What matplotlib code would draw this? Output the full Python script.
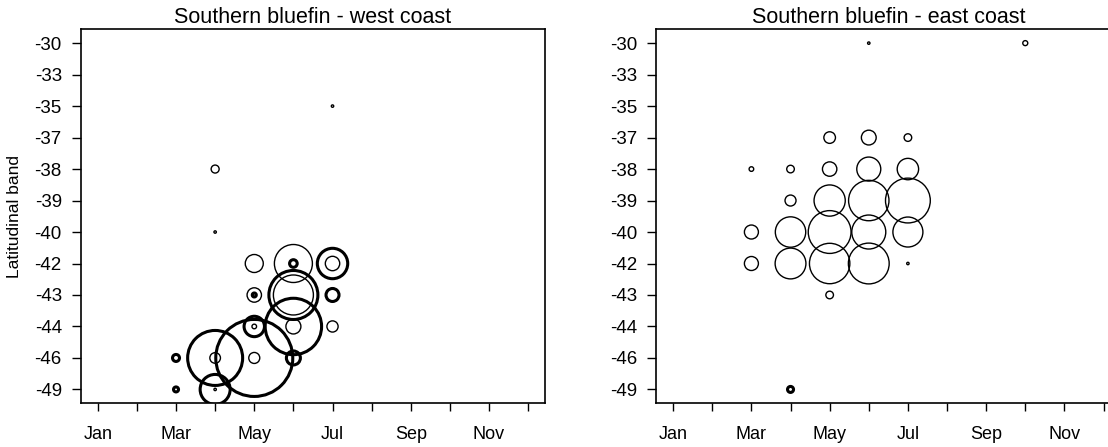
import matplotlib.pyplot as plt

plt.rcParams['font.family'] = ['Liberation Sans', 'DejaVu Sans']

months = ['Jan', 'Feb', 'Mar', 'Apr', 'May', 'Jun',
          'Jul', 'Aug', 'Sep', 'Oct', 'Nov', 'Dec']
bands = [-30, -33, -35, -37, -38, -39, -40, -42, -43, -44, -46, -49]

# west coast - heavy circles
west_a_month = [3, 3, 4, 4, 5, 5, 5, 6, 6, 6, 6, 7, 7]
west_a_band = [-46, -49, -46, -49, -46, -44, -43, -42, -43, -44, -46, -42, -43]
west_a_catch = [3.5, 2.5, 27.5, 15, 38.5, 10.2, 2, 3.8, 24.5, 28.2, 7, 15.2, 6.5]

# west coast - light circles
west_b_month = [4, 4, 7, 4, 4, 5, 5, 5, 5, 6, 6, 6, 7, 7]
west_b_band = [-38, -40, -35, -46, -49, -46, -44, -43, -42, -42, -43, -44, -42, -44]
west_b_catch = [4, 1.2, 1.2, 5.3, 1.2, 5.5, 2.3, 7.2, 9, 19, 20, 7.5, 7.2, 5.6]

# east coast - heavy circles
east_a_month = [4]
east_a_band = [-49]
east_a_catch = [3]

# east coast - light circles
east_b_month = [3, 3, 3,
                4, 4, 4, 4,
                5, 5, 5, 5, 5, 5,
                6, 6, 6, 6, 6, 6,
                7, 7, 7, 7, 7,
                10]
east_b_band = [-38, -40, -42,
               -38, -39, -40, -42,
               -37, -38, -39, -40, -42, -43,
               -30, -37, -38, -39, -40, -42,
               -37, -38, -39, -40, -42,
               -30]
east_b_catch = [2.3, 7, 7,
                3.8, 5.5, 15.2, 15.4,
                5.8, 7.2, 15.6, 21.4, 20.2, 3.8,
                1.2, 7.4, 12, 20.2, 17, 20.4,
                3.8, 10.7, 22.4, 15, 1.2,
                2.5]

DPI = 100


def msize(vals):
    # circle radius proportional to catch (1 unit = 1 px)
    return [(2 * v * 72 / DPI) ** 2 for v in vals]


def rows(bs):
    return [bands.index(b) + 1 for b in bs]


fig = plt.figure(figsize=(11.08, 4.47), dpi=DPI)
ax1 = fig.add_axes([0.0727, 0.0978, 0.4195, 0.8367])
ax2 = fig.add_axes([0.592, 0.0978, 0.4195, 0.8367])

panels = [
    (ax1, 'Southern bluefin - west coast',
     (west_a_month, west_a_band, west_a_catch),
     (west_b_month, west_b_band, west_b_catch)),
    (ax2, 'Southern bluefin - east coast',
     (east_a_month, east_a_band, east_a_catch),
     (east_b_month, east_b_band, east_b_catch)),
]

for ax, title, heavy, light in panels:
    ax.scatter(light[0], rows(light[1]), s=msize(light[2]),
               facecolors='none', edgecolors='black', linewidths=1.0)
    ax.scatter(heavy[0], rows(heavy[1]), s=msize(heavy[2]),
               facecolors='none', edgecolors='black', linewidths=2.2)
    ax.set_xlim(0.56, 12.44)
    ax.set_ylim(12.44, 0.56)
    ax.set_xticks(range(1, 13))
    ax.set_xticklabels([m if i % 2 == 0 else '' for i, m in enumerate(months)])
    ax.set_yticks(range(1, 13))
    ax.set_yticklabels([str(b) for b in bands])
    ax.tick_params(axis='x', length=6, width=1, pad=10, labelsize=13)
    ax.tick_params(axis='y', length=6.5, width=1, pad=7, labelsize=13.5)
    for sp in ax.spines.values():
        sp.set_linewidth(1.2)
    ax.set_title(title, fontsize=15.5, pad=4.5)

ax1.set_ylabel('Latitudinal band', fontsize=12.5)
ax1.yaxis.set_label_coords(-0.142, 0.5)
ax1.yaxis.label.set_va('center')

plt.savefig('out.png', dpi=DPI)
